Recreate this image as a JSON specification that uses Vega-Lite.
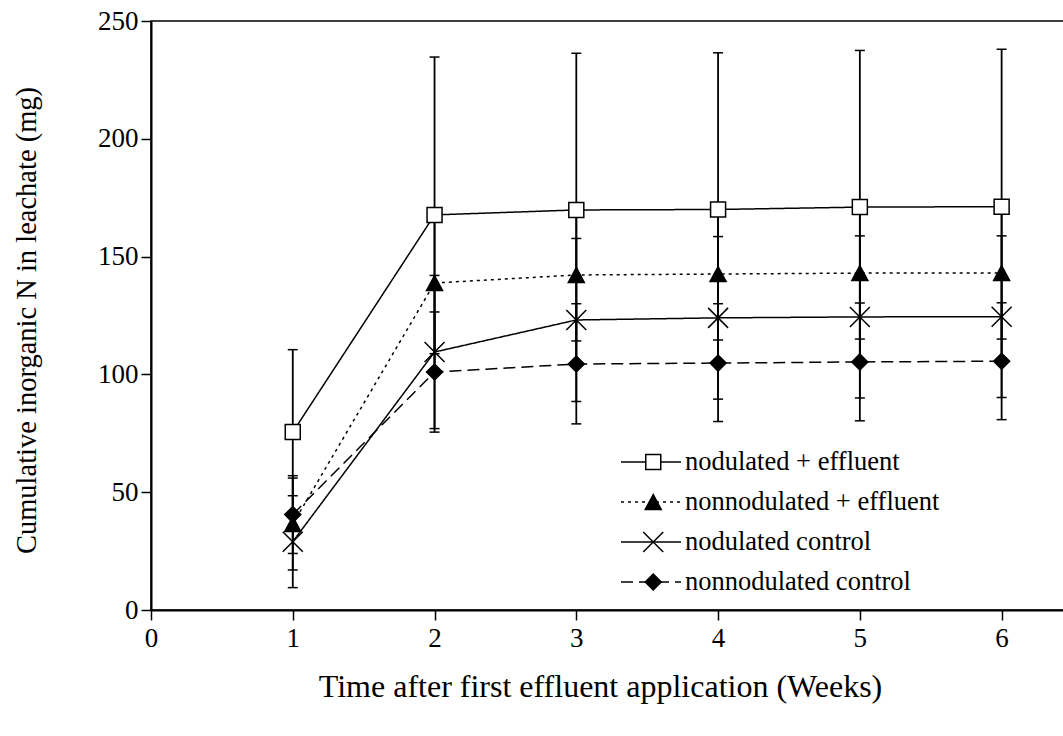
{
  "$schema": "https://vega.github.io/schema/vega-lite/v6.json",
  "width": 913,
  "height": 589,
  "autosize": {"type": "none"},
  "padding": {"left": 151, "top": 21, "right": 0, "bottom": 126},
  "background": "white",
  "config": {
    "view": {"stroke": "black", "strokeWidth": 1.5},
    "font": "Liberation Serif",
    "axis": {
      "grid": false,
      "domainColor": "black",
      "domainWidth": 2,
      "tickColor": "black",
      "tickWidth": 1.5,
      "tickSize": 10,
      "labelFont": "Liberation Serif",
      "labelFontSize": 27,
      "labelColor": "black",
      "titleFont": "Liberation Serif",
      "titleFontSize": 28.5,
      "titleFontWeight": "normal",
      "titleColor": "black"
    }
  },
  "data": {
    "values": [
      {"week": 1, "series": "nodulated + effluent", "n": 75.5, "lo": 40.5, "hi": 110.5},
      {"week": 2, "series": "nodulated + effluent", "n": 167.7, "lo": 100.7, "hi": 234.7},
      {"week": 3, "series": "nodulated + effluent", "n": 169.8, "lo": 103.3, "hi": 236.3},
      {"week": 4, "series": "nodulated + effluent", "n": 170.0, "lo": 103.5, "hi": 236.5},
      {"week": 5, "series": "nodulated + effluent", "n": 171.0, "lo": 104.5, "hi": 237.5},
      {"week": 6, "series": "nodulated + effluent", "n": 171.2, "lo": 104.5, "hi": 238.0},
      {"week": 1, "series": "nonnodulated + effluent", "n": 36.5, "lo": 17.0, "hi": 56.0},
      {"week": 2, "series": "nonnodulated + effluent", "n": 138.8, "lo": 108.8, "hi": 168.8},
      {"week": 3, "series": "nonnodulated + effluent", "n": 142.2, "lo": 114.2, "hi": 170.2},
      {"week": 4, "series": "nonnodulated + effluent", "n": 142.6, "lo": 114.6, "hi": 170.6},
      {"week": 5, "series": "nonnodulated + effluent", "n": 143.0, "lo": 115.0, "hi": 171.0},
      {"week": 6, "series": "nonnodulated + effluent", "n": 143.0, "lo": 115.0, "hi": 171.0},
      {"week": 1, "series": "nodulated control", "n": 29.0, "lo": 9.5, "hi": 48.5},
      {"week": 2, "series": "nodulated control", "n": 109.5, "lo": 77.0, "hi": 142.0},
      {"week": 3, "series": "nodulated control", "n": 123.1, "lo": 88.5, "hi": 157.7},
      {"week": 4, "series": "nodulated control", "n": 124.0, "lo": 89.5, "hi": 158.5},
      {"week": 5, "series": "nodulated control", "n": 124.4, "lo": 90.0, "hi": 158.8},
      {"week": 6, "series": "nodulated control", "n": 124.5, "lo": 90.2, "hi": 158.8},
      {"week": 1, "series": "nonnodulated control", "n": 40.5, "lo": 24.0, "hi": 57.0},
      {"week": 2, "series": "nonnodulated control", "n": 101.0, "lo": 75.5, "hi": 126.5},
      {"week": 3, "series": "nonnodulated control", "n": 104.4, "lo": 79.0, "hi": 130.0},
      {"week": 4, "series": "nonnodulated control", "n": 104.8, "lo": 80.0, "hi": 130.0},
      {"week": 5, "series": "nonnodulated control", "n": 105.3, "lo": 80.3, "hi": 130.3},
      {"week": 6, "series": "nonnodulated control", "n": 105.6, "lo": 80.8, "hi": 130.4}
    ]
  },
  "encoding": {
    "x": {
      "field": "week",
      "type": "quantitative",
      "title": "Time after first effluent application (Weeks)",
      "scale": {"domain": [0, 6.44], "nice": false, "zero": false},
      "axis": {"values": [0, 1, 2, 3, 4, 5, 6], "labelPadding": 5, "titlePadding": 20, "titleFontSize": 32, "titleX": 449, "labelFlush": false}
    }
  },
  "layer": [
    {
      "mark": {"type": "rule", "color": "black", "strokeWidth": 1.8},
      "encoding": {
        "y": {
          "field": "lo",
          "type": "quantitative",
          "title": "Cumulative inorganic N in leachate (mg)",
          "scale": {"domain": [0, 250], "nice": false},
          "axis": {"values": [0, 50, 100, 150, 200, 250], "labelPadding": 3, "titlePadding": 56, "titleY": 299}
        },
        "y2": {"field": "hi"}
      }
    },
    {
      "mark": {"type": "tick", "orient": "horizontal", "color": "black", "size": 10, "thickness": 1.5, "opacity": 1},
      "encoding": {
        "y": {"field": "lo", "type": "quantitative", "title": "Cumulative inorganic N in leachate (mg)"}
      }
    },
    {
      "mark": {"type": "tick", "orient": "horizontal", "color": "black", "size": 10, "thickness": 1.5, "opacity": 1},
      "encoding": {
        "y": {"field": "hi", "type": "quantitative", "title": "Cumulative inorganic N in leachate (mg)"}
      }
    },
    {
      "mark": {"type": "line", "color": "black", "strokeWidth": 1.5},
      "encoding": {
        "y": {"field": "n", "type": "quantitative", "title": "Cumulative inorganic N in leachate (mg)"},
        "strokeDash": {
          "field": "series",
          "type": "nominal",
          "sort": ["nodulated + effluent", "nonnodulated + effluent", "nodulated control", "nonnodulated control"],
          "scale": {"range": [[1, 0], [3, 4], [1, 0], [12, 6]]},
          "legend": {
            "orient": "none",
            "legendX": 469,
            "legendY": 421,
            "title": null,
            "padding": 0,
            "symbolType": "stroke",
            "symbolSize": 3600,
            "symbolStrokeColor": "black",
            "symbolStrokeWidth": 1.5,
            "labelFont": "Liberation Serif",
            "labelFontSize": 26.5,
            "labelColor": "black",
            "labelOffset": 3,
            "labelLimit": 400,
            "clipHeight": 40,
            "rowPadding": 0
          }
        }
      }
    },
    {
      "mark": {"type": "point", "filled": true, "strokeWidth": 1.5, "size": 400, "opacity": 1},
      "encoding": {
        "y": {"field": "n", "type": "quantitative", "title": "Cumulative inorganic N in leachate (mg)"},
        "shape": {
          "field": "series",
          "type": "nominal",
          "scale": {
            "domain": ["nodulated + effluent", "nonnodulated + effluent", "nodulated control", "nonnodulated control"],
            "range": [
              "M-0.75,-0.75H0.75V0.75H-0.75Z",
              "M0,-0.75L0.8,0.75L-0.8,0.75Z",
              "M-1,-1L1,1M-1,1L1,-1",
              "M0,-0.8L0.8,0L0,0.8L-0.8,0Z"
            ]
          },
          "legend": {
            "orient": "none",
            "legendX": 489,
            "legendY": 421,
            "title": null,
            "padding": 0,
            "symbolSize": 400,
            "symbolStrokeWidth": 1.5,
            "symbolOpacity": 1,
            "labelFont": "Liberation Serif",
            "labelFontSize": 26.5,
            "labelExpr": "''",
            "labelOffset": 3,
            "clipHeight": 40,
            "rowPadding": 0
          }
        },
        "fill": {
          "field": "series",
          "type": "nominal",
          "scale": {
            "domain": ["nodulated + effluent", "nonnodulated + effluent", "nodulated control", "nonnodulated control"],
            "range": ["white", "black", "transparent", "black"]
          }
        },
        "stroke": {
          "field": "series",
          "type": "nominal",
          "scale": {
            "domain": ["nodulated + effluent", "nonnodulated + effluent", "nodulated control", "nonnodulated control"],
            "range": ["black", "black", "black", "black"]
          }
        }
      }
    }
  ]
}
